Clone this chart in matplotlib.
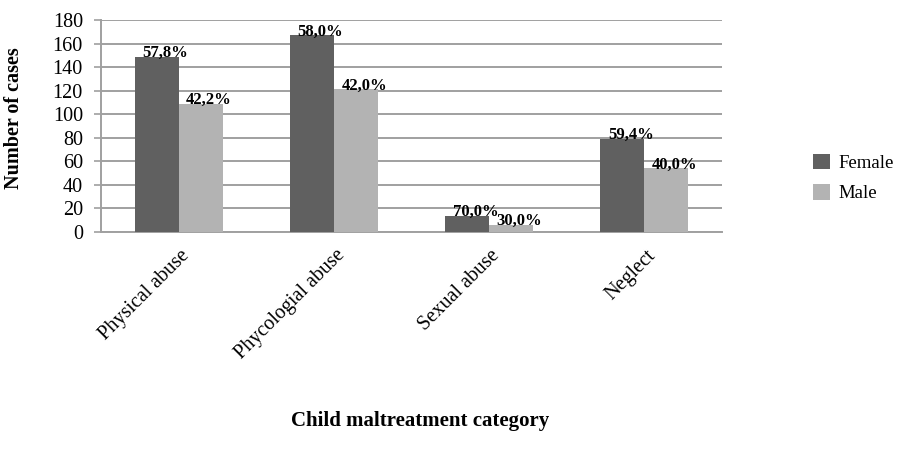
import matplotlib
matplotlib.use('Agg')
import matplotlib.pyplot as plt
import matplotlib.transforms as mtransforms
import numpy as np

plt.rcParams['font.family'] = ['Liberation Serif', 'DejaVu Serif']

# Data
categories = ['Physical abuse', 'Phycologial abuse', 'Sexual abuse', 'Neglect']
female = [149, 167, 14, 79]
male = [109, 121, 6, 54]
female_pct = ['57,8%', '58,0%', '70,0%', '59,4%']
male_pct = ['42,2%', '42,0%', '30,0%', '40,0%']
yticks = list(range(0, 181, 20))

fig = plt.figure(figsize=(8.97, 4.63), dpi=100)
ax = fig.add_axes([101 / 897, 1 - 232 / 463, 621 / 897, 212 / 463])

x = np.arange(len(categories))
w = 0.284
b1 = ax.bar(x - w / 2, female, w, color='#606060', label='Female', zorder=3)
b2 = ax.bar(x + w / 2, male, w, color='#b3b3b3', label='Male', zorder=3)

for bars, labs in ((b1, female_pct), (b2, male_pct)):
    for r, lab in zip(bars, labs):
        ax.annotate(lab, (r.get_x() + r.get_width() / 2, r.get_height()),
                    xytext=(6, -3), textcoords='offset points',
                    ha='center', va='bottom', fontsize=12, fontweight='bold',
                    zorder=4)

ax.set_xlim(-0.5, len(categories) - 0.5)
ax.set_ylim(0, 180)
ax.set_yticks(yticks)
ax.yaxis.grid(True, color='#a0a0a0', linewidth=1.4, zorder=0)
ax.set_axisbelow(True)
for s in ['top', 'right']:
    ax.spines[s].set_visible(False)
for s in ['left', 'bottom']:
    ax.spines[s].set_color('#a0a0a0')
    ax.spines[s].set_linewidth(1.4)
ax.tick_params(axis='y', length=5, color='#a0a0a0', width=1.2, labelsize=14.5, pad=8)
ax.tick_params(axis='x', length=0, labelsize=14.5, pad=10)
ax.set_xticks(x)
ax.set_xticklabels(categories, rotation=45, ha='right', va='top',
                   rotation_mode='anchor')
shift = mtransforms.ScaledTranslation(1 / 72, 0, fig.dpi_scale_trans)
for t in ax.get_xticklabels():
    t.set_transform(t.get_transform() + shift)

ax.set_ylabel('Number of cases', fontsize=14.5, fontweight='bold')
ax.yaxis.set_label_coords(-0.124, 0.538)
fig.text(420 / 897, 1 - 421 / 463, 'Child maltreatment category', ha='center',
         va='center', fontsize=15, fontweight='bold')

ax.legend(loc='center left', bbox_to_anchor=(1.12, 0.255), frameon=False,
          fontsize=13.5, handlelength=0.9, handleheight=0.9, labelspacing=0.65,
          handletextpad=0.45)

fig.savefig('out.png', dpi=100)
